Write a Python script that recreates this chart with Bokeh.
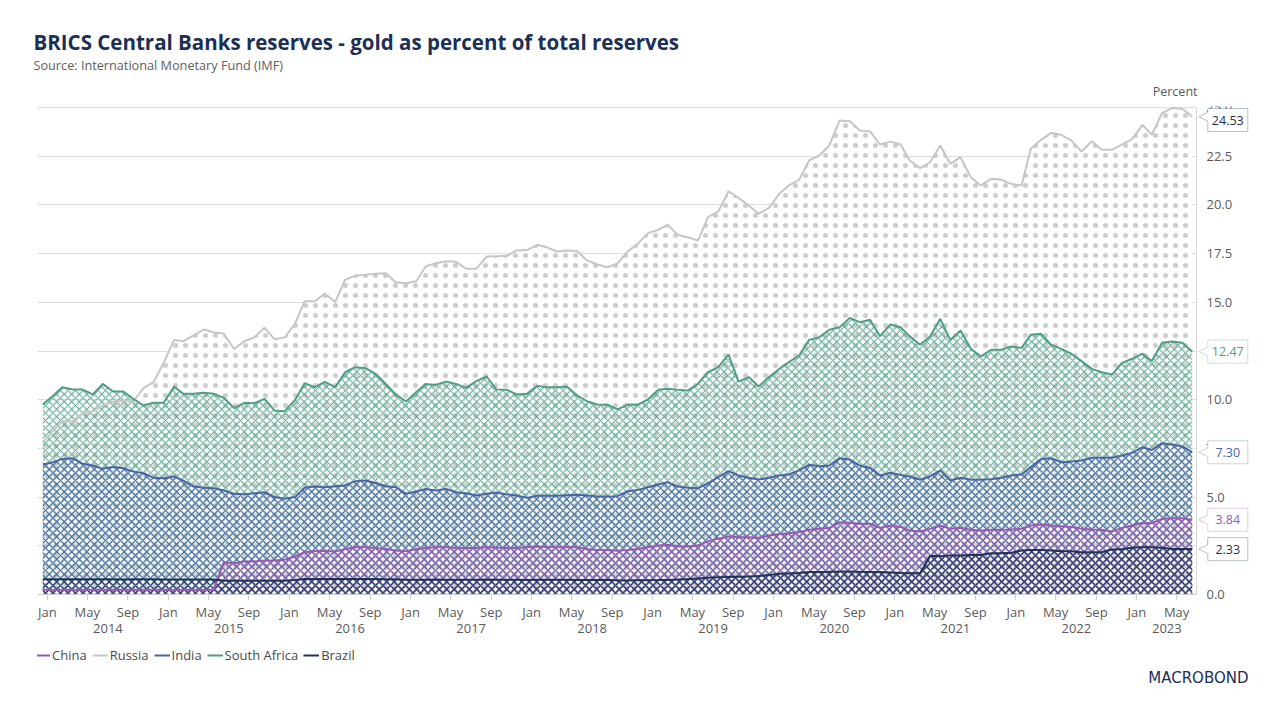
import numpy as np
import pandas as pd
from bokeh.plotting import figure
from bokeh.models import (Range1d, FixedTicker, LinearAxis, NumeralTickFormatter,
                          Legend, LegendItem, Title, Label, PolyAnnotation)
from bokeh.embed import file_html
from bokeh.resources import INLINE

# ---------------- data (percent of total reserves, monthly from Jan 2014) -------------
start_month = "2014-01-01"

russia = [7.8, 8.4, 8.9, 8.9, 9.3, 9.4, 9.7, 9.9, 9.95, 9.9, 10.6, 10.9, 11.9,
          13.07, 13.0, 13.3, 13.6, 13.45, 13.4, 12.6, 13.0, 13.2, 13.7, 13.1, 13.2,
          13.9, 15.05, 15.05, 15.45, 15.01, 16.15, 16.38, 16.41, 16.46, 16.49, 16.03, 15.98,
          16.08, 16.84, 17.01, 17.11, 17.08, 16.72, 16.72, 17.35, 17.37, 17.39, 17.66, 17.68,
          17.95, 17.83, 17.61, 17.66, 17.63, 17.15, 16.94, 16.80, 17.0, 17.62, 18.00, 18.55,
          18.72, 18.99, 18.46, 18.34, 18.17, 19.37, 19.66, 20.70, 20.36, 19.97, 19.54, 19.85,
          20.57, 21.00, 21.29, 22.28, 22.54, 23.05, 24.33, 24.30, 23.82, 23.77, 23.10, 23.25,
          23.1, 22.28, 21.89, 22.19, 23.05, 22.11, 22.45, 21.42, 21.00, 21.34, 21.30, 21.08,
          21.00, 22.88, 23.34, 23.70, 23.60, 23.31, 22.74, 23.27, 22.83, 22.83, 23.10, 23.39,
          24.11, 23.60, 24.71, 24.97, 24.94, 24.53]

south_africa = [9.75, 10.2, 10.64, 10.52, 10.52, 10.27, 10.81, 10.42, 10.42, 10.04, 9.70, 9.84, 9.84,
                10.68, 10.30, 10.30, 10.36, 10.30, 10.10, 9.57, 9.84, 9.82, 10.04, 9.45, 9.41,
                9.99, 10.85, 10.64, 10.92, 10.64, 11.41, 11.67, 11.62, 11.33, 10.81, 10.27, 9.91,
                10.39, 10.81, 10.76, 10.93, 10.81, 10.61, 10.95, 11.19, 10.52, 10.51, 10.27, 10.30,
                10.71, 10.64, 10.64, 10.68, 10.22, 9.92, 9.75, 9.74, 9.50, 9.75, 9.74, 10.01,
                10.51, 10.56, 10.51, 10.47, 10.82, 11.41, 11.67, 12.32, 10.93, 11.16, 10.68, 11.16,
                11.58, 11.93, 12.27, 13.07, 13.21, 13.59, 13.72, 14.20, 13.98, 14.10, 13.26, 13.86,
                13.72, 13.25, 12.82, 13.24, 14.15, 13.07, 13.55, 12.61, 12.22, 12.56, 12.56, 12.73,
                12.66, 13.33, 13.38, 12.82, 12.61, 12.36, 11.98, 11.58, 11.41, 11.29, 11.89, 12.10,
                12.36, 11.98, 12.92, 12.99, 12.92, 12.47]

india = [6.67, 6.79, 6.96, 7.00, 6.71, 6.62, 6.45, 6.54, 6.48, 6.31, 6.23, 5.99, 5.97,
         6.06, 5.85, 5.54, 5.48, 5.46, 5.34, 5.17, 5.14, 5.20, 5.25, 5.00, 4.91,
         5.00, 5.48, 5.54, 5.50, 5.56, 5.60, 5.82, 5.85, 5.72, 5.56, 5.51, 5.17,
         5.29, 5.42, 5.34, 5.42, 5.25, 5.20, 5.08, 5.17, 5.24, 5.14, 5.08, 4.96,
         5.07, 5.07, 5.07, 5.10, 5.12, 5.08, 5.03, 5.03, 5.05, 5.30, 5.37, 5.51,
         5.65, 5.77, 5.54, 5.48, 5.46, 5.71, 6.02, 6.33, 6.11, 5.99, 5.90, 5.99,
         6.11, 6.16, 6.37, 6.66, 6.59, 6.62, 7.00, 6.93, 6.62, 6.49, 6.11, 6.25,
         6.14, 6.06, 5.89, 6.06, 6.37, 5.85, 5.99, 5.89, 5.89, 5.92, 5.99, 6.11,
         6.16, 6.54, 6.96, 7.00, 6.79, 6.83, 6.88, 7.02, 7.02, 7.02, 7.14, 7.27,
         7.56, 7.42, 7.77, 7.70, 7.60, 7.30]

china = [0.25, 0.25, 0.25, 0.25, 0.25, 0.25, 0.25, 0.25, 0.25, 0.25, 0.25, 0.25, 0.25,
         0.25, 0.25, 0.25, 0.25, 0.25, 1.66, 1.61, 1.69, 1.70, 1.75, 1.75, 1.78,
         1.95, 2.17, 2.22, 2.25, 2.20, 2.34, 2.43, 2.43, 2.39, 2.34, 2.26, 2.22,
         2.34, 2.39, 2.43, 2.43, 2.39, 2.39, 2.39, 2.43, 2.41, 2.39, 2.39, 2.43,
         2.46, 2.44, 2.43, 2.43, 2.43, 2.34, 2.29, 2.29, 2.24, 2.29, 2.34, 2.43,
         2.52, 2.55, 2.46, 2.46, 2.52, 2.74, 2.86, 2.98, 2.94, 2.94, 2.91, 3.03,
         3.11, 3.15, 3.20, 3.32, 3.37, 3.41, 3.71, 3.68, 3.63, 3.63, 3.42, 3.54,
         3.47, 3.29, 3.23, 3.37, 3.54, 3.37, 3.41, 3.32, 3.29, 3.32, 3.32, 3.34,
         3.37, 3.54, 3.59, 3.54, 3.51, 3.46, 3.37, 3.34, 3.32, 3.23, 3.42, 3.54,
         3.68, 3.66, 3.88, 3.91, 3.91, 3.84]

brazil = [0.78, 0.78, 0.78, 0.78, 0.78, 0.78, 0.78, 0.78, 0.77, 0.78, 0.78, 0.78, 0.77,
          0.77, 0.77, 0.77, 0.77, 0.77, 0.71, 0.71, 0.70, 0.71, 0.71, 0.71, 0.71,
          0.74, 0.79, 0.79, 0.80, 0.79, 0.79, 0.80, 0.79, 0.79, 0.78, 0.78, 0.76,
          0.76, 0.76, 0.77, 0.76, 0.76, 0.76, 0.76, 0.77, 0.76, 0.76, 0.76, 0.75,
          0.76, 0.76, 0.76, 0.76, 0.75, 0.75, 0.75, 0.76, 0.72, 0.72, 0.73, 0.73,
          0.74, 0.75, 0.77, 0.79, 0.82, 0.86, 0.88, 0.90, 0.91, 0.92, 0.95, 1.00,
          1.06, 1.08, 1.10, 1.15, 1.16, 1.17, 1.18, 1.18, 1.17, 1.16, 1.15, 1.13,
          1.10, 1.09, 1.09, 1.97, 1.97, 2.00, 2.00, 2.03, 2.03, 2.12, 2.12, 2.14,
          2.26, 2.29, 2.29, 2.26, 2.22, 2.22, 2.17, 2.17, 2.17, 2.31, 2.34, 2.40,
          2.43, 2.43, 2.40, 2.34, 2.34, 2.33]

month_tick_names = ["Jan", "May", "Sep"]
month_tick_numbers = [1, 5, 9]
y_ticks = [0.0, 2.5, 5.0, 7.5, 10.0, 12.5, 15.0, 17.5, 20.0, 22.5, 25.0]

# --------------------------- styling ------------------------------------------
C_CHINA, C_RUSSIA, C_INDIA, C_SA, C_BRAZIL = "#9a58b4", "#c6c6c6", "#4a64a9", "#4f9f87", "#203259"
NAVY = "#1c2f56"
FONT = "Open Sans"
TICK_COL = "#5b5b5b"

dates = pd.date_range(start_month, periods=len(russia), freq="MS")
def ms(ts):
    return float(pd.Timestamp(ts).value // 10**6)
x = [ms(d) for d in dates]

# geometry (pixels): frame covers the plot area plus the callout / legend room
FRAME_L, FRAME_R, FRAME_T, FRAME_B = 37, 1258, 106, 700
TOP_PX = 107            # where y = 25 sits
AXIS_PX = 1196          # where the value axis sits
ZERO_PX = 594           # where y = 0 sits
DATA_L_PX, DATA_R_PX = 42.3, 1191.7
FRAME_W = FRAME_R - FRAME_L
ms_per_px = (x[-1] - x[0]) / (DATA_R_PX - DATA_L_PX)
x_start = x[0] - (DATA_L_PX - FRAME_L) * ms_per_px
x_end = x_start + FRAME_W * ms_per_px
axis_x = x_start + (AXIS_PX - FRAME_L) * ms_per_px
u_per_px = 25.0 / (ZERO_PX - TOP_PX)
y_start = -(FRAME_B - ZERO_PX) * u_per_px
y_end = 25.0 + (TOP_PX - FRAME_T) * u_per_px

p = figure(width=1280, height=720, output_backend="svg", toolbar_location=None,
           title=None, x_range=Range1d(x_start, x_end), y_range=Range1d(y_start, y_end),
           y_axis_location="right",
           min_border_left=FRAME_L, min_border_right=1280 - FRAME_R,
           min_border_top=FRAME_T, min_border_bottom=720 - FRAME_B)
p.outline_line_color = None
p.background_fill_color = "white"
p.border_fill_color = "white"

# ---------------- areas (back to front), then lines ----------------------------
series = [
    ("Russia", russia, C_RUSSIA, "dot"),
    ("South Africa", south_africa, C_SA, "x"),
    ("India", india, C_INDIA, "x"),
    ("China", china, C_CHINA, "x"),
    ("Brazil", brazil, C_BRAZIL, "x"),
]
for name, vals, col, pat in series:
    if pat == "dot":
        p.varea(x=x, y1=0, y2=vals, fill_color="white", fill_alpha=1.0,
                hatch_pattern="dot", hatch_color="#cdcdcd", hatch_scale=10, hatch_weight=0.4)
    else:
        p.varea(x=x, y1=0, y2=vals, fill_alpha=0.0,
                hatch_pattern="x", hatch_color=col, hatch_scale=7.5, hatch_weight=1.0)

lines = {}
for name, vals, col, pat in series:
    lines[name] = p.line(x=x, y=vals, line_color=col, line_width=2.0)

# keep the grid lines from running past the value axis
p.quad(left=[axis_x], right=[x_end], bottom=[-0.3], top=[y_end],
       fill_color="white", line_color=None)

# ---------------- axes ---------------------------------------------------------
yax = p.yaxis[0]
yax.fixed_location = axis_x
yax.bounds = (0, 25)
yax.ticker = FixedTicker(ticks=y_ticks)
yax.formatter = NumeralTickFormatter(format="0.0")
yax.major_tick_line_color = None
yax.minor_tick_line_color = None
yax.axis_line_color = "#d6d6d6"
yax.major_label_text_font = FONT
yax.major_label_text_font_size = "13px"
yax.major_label_text_color = TICK_COL
yax.major_label_text_align = "right"
yax.major_label_standoff = 4

p.ygrid.ticker = FixedTicker(ticks=y_ticks)
p.ygrid.grid_line_color = "#dedede"
p.xgrid.grid_line_color = None

month_ticks, month_over = [], {}
for yr in range(dates[0].year, dates[-1].year + 1):
    for mn, nm in zip(month_tick_numbers, month_tick_names):
        t = pd.Timestamp(yr, mn, 15)
        if t <= dates[-1]:
            v = int(ms(t))
            month_ticks.append(v)
            month_over[v] = nm

xax = p.xaxis[0]
xax.fixed_location = 0
xax.bounds = (x_start, axis_x)
xax.ticker = FixedTicker(ticks=month_ticks)
xax.major_label_overrides = month_over
xax.axis_line_color = "#cfcfcf"
xax.major_tick_line_color = "#cfcfcf"
xax.major_tick_in = 0
xax.major_tick_out = 6
xax.minor_tick_line_color = None
xax.major_label_text_font = FONT
xax.major_label_text_font_size = "13px"
xax.major_label_text_color = TICK_COL
xax.major_label_standoff = 2

year_ticks, year_over = [], {}
for yr in range(dates[0].year, dates[-1].year + 1):
    a = pd.Timestamp(yr, 1, 15)
    b = min(pd.Timestamp(yr + 1, 1, 15), dates[-1] + pd.Timedelta(days=14))
    v = int(ms(a + (b - a) / 2))
    year_ticks.append(v)
    year_over[v] = str(yr)
xax2 = LinearAxis(ticker=FixedTicker(ticks=year_ticks), major_label_overrides=year_over,
                  fixed_location=0, axis_line_color=None, major_tick_line_color=None,
                  minor_tick_line_color=None, major_tick_out=0, major_tick_in=0,
                  major_label_text_font=FONT, major_label_text_font_size="13px",
                  major_label_text_color=TICK_COL, major_label_standoff=29)
p.add_layout(xax2, "below")

# ---------------- legend and logo (inside the enlarged frame) ----------------------
legend = Legend(items=[LegendItem(label=n, renderers=[lines[n]])
                       for n in ["China", "Russia", "India", "South Africa", "Brazil"]],
                orientation="horizontal", location=(-3, 36),
                label_text_font=FONT, label_text_font_size="13px", label_text_color="#4a4a4a",
                glyph_width=16, glyph_height=12, label_standoff=2, spacing=5,
                padding=0, margin=0, border_line_color=None, background_fill_alpha=0,
                label_height=12)
p.add_layout(legend, "center")

p.add_layout(Label(x=1248 - FRAME_L, y=FRAME_B - 677, x_units="screen", y_units="screen",
                   text="MACROBOND", text_align="right", text_baseline="middle",
                   text_font="DejaVu Sans", text_font_size="15px", text_color=NAVY))

# ---------------- titles --------------------------------------------------------------
p.add_layout(Title(text="Percent", align="right", offset=FRAME_R - 1197, text_font=FONT,
                   text_font_size="12.5px", text_font_style="normal", text_color=TICK_COL,
                   standoff=13), "above")
p.add_layout(Title(text="Source: International Monetary Fund (IMF)", align="left", offset=-4,
                   text_font=FONT, text_font_size="12.7px", text_font_style="normal",
                   text_color="#5e5e5e", standoff=1), "above")
p.add_layout(Title(text="BRICS Central Banks reserves - gold as percent of total reserves",
                   align="left", offset=-4, text_font=FONT, text_font_size="20.5px",
                   text_font_style="bold", text_color=NAVY, standoff=-5), "above")

# ---------------- end-value callouts --------------------------------------------------
callouts = [("Russia", russia, NAVY), ("South Africa", south_africa, C_SA),
            ("India", india, C_INDIA), ("China", china, C_CHINA), ("Brazil", brazil, C_BRAZIL)]
for name, vals, col in callouts:
    v = vals[-1]
    tip = x[-1] + 6.6 * ms_per_px
    bl = tip + 9 * ms_per_px
    br = bl + 40 * ms_per_px
    cy = min(v, 25 - 12.5 * u_per_px)
    hh = 11.5 * u_per_px
    nh = 4.5 * u_per_px
    xs = [bl, br, br, bl, bl, tip, bl]
    ys = [cy + hh, cy + hh, cy - hh, cy - hh, v - nh, v, v + nh]
    p.add_layout(PolyAnnotation(xs=xs, ys=ys, fill_color="white", fill_alpha=1.0,
                                line_color=col, line_width=1))
    p.add_layout(Label(x=(bl + br) / 2, y=cy, text=f"{v:.2f}", text_align="center",
                       text_baseline="middle", text_font=FONT, text_font_size="12.5px",
                       text_color=col))

open("out.html", "w").write(file_html(p, INLINE))
